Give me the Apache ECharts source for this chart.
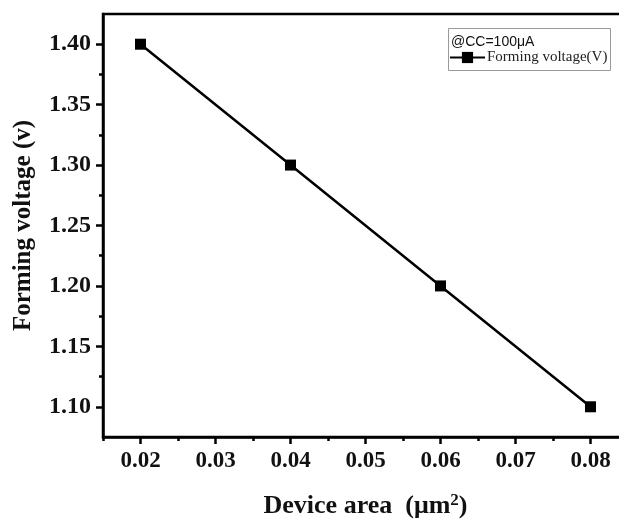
<!DOCTYPE html>
<html>
<head>
<meta charset="utf-8">
<script src="https://cdn.jsdelivr.net/npm/echarts@6/dist/echarts.min.js"></script>
<style>
  html,body{margin:0;padding:0;background:#fff;}
  #chart{width:619px;height:520px;}
</style>
</head>
<body>
<div id="chart"></div>
<script>
// data
const areas = [0.02, 0.04, 0.06, 0.08]
const voltages = [1.40, 1.30, 1.20, 1.10]
const xMajor = [0.02, 0.03, 0.04, 0.05, 0.06, 0.07, 0.08]
const xMinor = [0.015, 0.025, 0.035, 0.045, 0.055, 0.065, 0.075]
const yMajor = [1.10, 1.15, 1.20, 1.25, 1.30, 1.35, 1.40]
const yMinor = [1.125, 1.175, 1.225, 1.275, 1.325, 1.375]

const serif = '"Liberation Serif", "DejaVu Serif", serif'
const chart = echarts.init(document.getElementById('chart'))

const axisLine = {lineStyle:{color:'#000', width:2.5}}

const option = {
  animation:false,
  grid:{
    left:103, top:14, right:-9, bottom:83,
    outerBoundsMode:'none',
    show:true, borderColor:'#000', borderWidth:2.5
  },
  legend:{
    left:449, top:50,
    itemWidth:35, itemHeight:14, itemGap:0,
    padding:0,
    data:['Forming voltage(V)'],
    textStyle:{fontFamily:serif, fontSize:15, color:'#222', padding:[0,0,0,-3]}
  },
  graphic:[
    {type:'rect', left:448, top:28, z:-1,
      shape:{width:162, height:42},
      style:{fill:'#fff', stroke:'#9a9a9a', lineWidth:1}},
    {type:'text', left:451, top:35,
      style:{text:'@CC=100μA', fontFamily:'"Liberation Sans", Arial, sans-serif', fontSize:14, fill:'#111'}}
  ],
  xAxis:[{
    type:'value', min:0.015, max:0.085,
    name:'Device area  (μm{sup|2})',
    nameLocation:'middle', nameGap:55,
    nameTextStyle:{
      fontFamily:serif, fontSize:26, fontWeight:'bold', color:'#111',
      rich:{sup:{fontFamily:serif, fontSize:17, fontWeight:'bold', color:'#111', padding:[0,0,12,0]}}
    },
    axisLine:axisLine,
    axisTick:{show:true, customValues:xMajor, length:7, lineStyle:{width:2.5, color:'#000'}},
    axisLabel:{customValues:xMajor, margin:13, fontFamily:serif, fontSize:23, fontWeight:'bold', color:'#111',
      formatter:v=>v.toFixed(2)},
    splitLine:{show:false}
  },{
    type:'value', min:0.015, max:0.085, position:'bottom',
    axisLine:{show:false},
    axisTick:{show:true, customValues:xMinor, length:4, lineStyle:{width:2.5, color:'#000'}},
    axisLabel:{show:false},
    splitLine:{show:false}
  }],
  yAxis:[{
    type:'value', min:1.075, max:1.425,
    name:'Forming voltage (v)',
    nameLocation:'middle', nameGap:67,
    nameTextStyle:{fontFamily:serif, fontSize:25, fontWeight:'bold', color:'#111'},
    axisLine:axisLine,
    axisTick:{show:true, customValues:yMajor, length:7, lineStyle:{width:2.5, color:'#000'}},
    axisLabel:{customValues:yMajor, margin:12, fontFamily:serif, fontSize:24, fontWeight:'bold', color:'#111',
      formatter:v=>v.toFixed(2)},
    splitLine:{show:false}
  },{
    type:'value', min:1.075, max:1.425, position:'left',
    axisLine:{show:false},
    axisTick:{show:true, customValues:yMinor, length:4, lineStyle:{width:2.5, color:'#000'}},
    axisLabel:{show:false},
    splitLine:{show:false}
  }],
  series:[{
    name:'Forming voltage(V)',
    type:'line',
    data:areas.map((a,i)=>[a, voltages[i]]),
    symbol:'rect', symbolSize:11,
    itemStyle:{color:'#000'},
    lineStyle:{color:'#000', width:2.5}
  }]
}
chart.setOption(option)
</script>
</body>
</html>
